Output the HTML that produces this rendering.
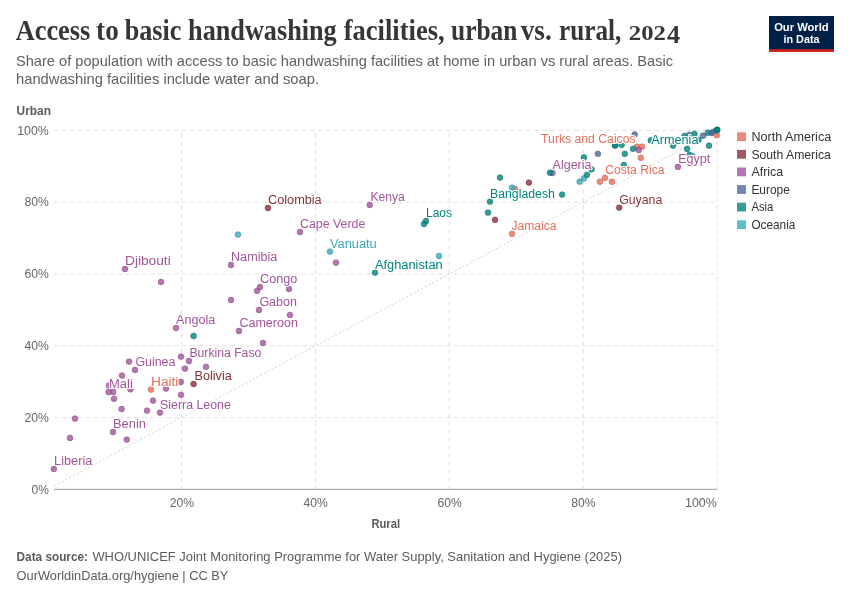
<!DOCTYPE html>
<html lang="en"><head><meta charset="utf-8">
<title>Access to basic handwashing facilities, urban vs. rural, 2024</title>
<style>
html,body{margin:0;padding:0;background:#fff;}
body{width:850px;height:600px;overflow:hidden;}
svg{display:block;font-family:"Liberation Sans",Arial,sans-serif;}
.title{font-family:"Liberation Serif","DejaVu Serif",serif;font-weight:700;fill:#363636;}
.sub{fill:#606060;}
.tick{fill:#666;font-size:13px;}
.axl{fill:#5b5b5b;font-weight:700;font-size:12.8px;}
.lab{font-size:12px;paint-order:stroke;stroke:#fff;stroke-width:2.2px;stroke-linejoin:round;}
.leg{fill:#333;font-size:12.4px;}
.foot{fill:#5b5b5b;font-size:13px;}
.grid{stroke:#e0e0e0;stroke-width:1;stroke-dasharray:4.6 3.4;fill:none;}
.logo{fill:#fff;font-weight:700;font-size:11.6px;}
</style></head><body>
<svg width="850" height="600" viewBox="0 0 850 600">
<rect x="0" y="0" width="850" height="600" fill="#fff"/>
<text class="title" x="16" y="40.2" font-size="28.4"><tspan x="15.7" textLength="74.6" lengthAdjust="spacingAndGlyphs">Access</tspan> <tspan x="96.1" textLength="22.6" lengthAdjust="spacingAndGlyphs">to</tspan> <tspan x="124.7" textLength="56.6" lengthAdjust="spacingAndGlyphs">basic</tspan> <tspan x="188.1" textLength="148.6" lengthAdjust="spacingAndGlyphs">handwashing</tspan> <tspan x="343.7" textLength="101.0" lengthAdjust="spacingAndGlyphs">facilities,</tspan> <tspan x="451.1" textLength="66.2" lengthAdjust="spacingAndGlyphs">urban</tspan> <tspan x="520.7" textLength="31.0" lengthAdjust="spacingAndGlyphs">vs.</tspan> <tspan x="559.1" textLength="62.2" lengthAdjust="spacingAndGlyphs">rural,</tspan><tspan x="628.8" font-size="20" textLength="37.1" lengthAdjust="spacingAndGlyphs">202</tspan><tspan x="667.1" y="43.3" font-size="24.7" textLength="13.1" lengthAdjust="spacingAndGlyphs">4</tspan></text>
<text x="16" y="65.6" class="sub" textLength="657" lengthAdjust="spacingAndGlyphs" font-size="15">Share of population with access to basic handwashing facilities at home in urban vs rural areas. Basic</text>
<text x="16" y="84.0" class="sub" textLength="303" lengthAdjust="spacingAndGlyphs" font-size="15">handwashing facilities include water and soap.</text>
<rect x="769" y="16" width="65" height="36" fill="#002147"/>
<rect x="769" y="49.2" width="65" height="2.8" fill="#ce261e"/>
<text x="801.4" y="30.6" class="logo" textLength="54.5" lengthAdjust="spacingAndGlyphs" text-anchor="middle">Our World</text>
<text x="801.5" y="42.6" class="logo" textLength="36" lengthAdjust="spacingAndGlyphs" text-anchor="middle">in Data</text>
<text x="16.6" y="114.5" class="axl" textLength="34.4" lengthAdjust="spacingAndGlyphs">Urban</text>
<text x="371.4" y="528.2" class="axl" textLength="28.6" lengthAdjust="spacingAndGlyphs">Rural</text>
<line class="grid" x1="54.2" y1="417.62" x2="717.1" y2="417.62"/>
<line class="grid" x1="54.2" y1="345.79" x2="717.1" y2="345.79"/>
<line class="grid" x1="54.2" y1="273.96" x2="717.1" y2="273.96"/>
<line class="grid" x1="54.2" y1="202.13" x2="717.1" y2="202.13"/>
<line class="grid" x1="54.2" y1="130.3" x2="717.1" y2="130.3"/>
<line class="grid" x1="181.58" y1="489.45" x2="181.58" y2="130.3"/>
<line class="grid" x1="315.46" y1="489.45" x2="315.46" y2="130.3"/>
<line class="grid" x1="449.34" y1="489.45" x2="449.34" y2="130.3"/>
<line class="grid" x1="583.22" y1="489.45" x2="583.22" y2="130.3"/>
<line class="grid" x1="717.1" y1="489.45" x2="717.1" y2="130.3"/>
<line x1="54.2" y1="489.3" x2="717.1" y2="489.3" stroke="#999" stroke-width="1"/>
<line x1="54.2" y1="485.96" x2="717.1" y2="130.3" stroke="#d4d4d4" stroke-width="1" stroke-dasharray="2.1 2.15"/>
<text x="31.5" y="493.65" class="tick" textLength="17.3" lengthAdjust="spacingAndGlyphs">0%</text>
<text x="24.5" y="421.82" class="tick" textLength="24.3" lengthAdjust="spacingAndGlyphs">20%</text>
<text x="24.5" y="349.99" class="tick" textLength="24.3" lengthAdjust="spacingAndGlyphs">40%</text>
<text x="24.5" y="278.16" class="tick" textLength="24.3" lengthAdjust="spacingAndGlyphs">60%</text>
<text x="24.5" y="206.33" class="tick" textLength="24.3" lengthAdjust="spacingAndGlyphs">80%</text>
<text x="17.2" y="134.5" class="tick" textLength="31.6" lengthAdjust="spacingAndGlyphs">100%</text>
<text x="169.68" y="507.2" class="tick" textLength="24.3" lengthAdjust="spacingAndGlyphs">20%</text>
<text x="303.56" y="507.2" class="tick" textLength="24.3" lengthAdjust="spacingAndGlyphs">40%</text>
<text x="437.44" y="507.2" class="tick" textLength="24.3" lengthAdjust="spacingAndGlyphs">60%</text>
<text x="571.32" y="507.2" class="tick" textLength="24.3" lengthAdjust="spacingAndGlyphs">80%</text>
<text x="685" y="507.2" class="tick" textLength="31.8" lengthAdjust="spacingAndGlyphs">100%</text>
<circle cx="53.9" cy="469.0" r="2.9" fill="#a2559c" fill-opacity="0.8" stroke="#82447d" stroke-opacity="0.8" stroke-width="0.6"/>
<circle cx="70" cy="438" r="2.9" fill="#a2559c" fill-opacity="0.8" stroke="#82447d" stroke-opacity="0.8" stroke-width="0.6"/>
<circle cx="75" cy="418.6" r="2.9" fill="#a2559c" fill-opacity="0.8" stroke="#82447d" stroke-opacity="0.8" stroke-width="0.6"/>
<circle cx="113" cy="432" r="2.9" fill="#a2559c" fill-opacity="0.8" stroke="#82447d" stroke-opacity="0.8" stroke-width="0.6"/>
<circle cx="126.8" cy="439.6" r="2.9" fill="#a2559c" fill-opacity="0.8" stroke="#82447d" stroke-opacity="0.8" stroke-width="0.6"/>
<circle cx="121.6" cy="409" r="2.9" fill="#a2559c" fill-opacity="0.8" stroke="#82447d" stroke-opacity="0.8" stroke-width="0.6"/>
<circle cx="114" cy="398.8" r="2.9" fill="#a2559c" fill-opacity="0.8" stroke="#82447d" stroke-opacity="0.8" stroke-width="0.6"/>
<circle cx="108.6" cy="392" r="2.9" fill="#a2559c" fill-opacity="0.8" stroke="#82447d" stroke-opacity="0.8" stroke-width="0.6"/>
<circle cx="113.2" cy="392" r="2.9" fill="#a2559c" fill-opacity="0.8" stroke="#82447d" stroke-opacity="0.8" stroke-width="0.6"/>
<circle cx="109" cy="385.5" r="2.9" fill="#a2559c" fill-opacity="0.8" stroke="#82447d" stroke-opacity="0.8" stroke-width="0.6"/>
<circle cx="130.4" cy="389.3" r="2.9" fill="#a2559c" fill-opacity="0.8" stroke="#82447d" stroke-opacity="0.8" stroke-width="0.6"/>
<circle cx="147" cy="410.6" r="2.9" fill="#a2559c" fill-opacity="0.8" stroke="#82447d" stroke-opacity="0.8" stroke-width="0.6"/>
<circle cx="160" cy="412.6" r="2.9" fill="#a2559c" fill-opacity="0.8" stroke="#82447d" stroke-opacity="0.8" stroke-width="0.6"/>
<circle cx="153" cy="400.6" r="2.9" fill="#a2559c" fill-opacity="0.8" stroke="#82447d" stroke-opacity="0.8" stroke-width="0.6"/>
<circle cx="151" cy="389.6" r="2.9" fill="#e56e5a" fill-opacity="0.8" stroke="#b75848" stroke-opacity="0.8" stroke-width="0.6"/>
<circle cx="166" cy="388.5" r="2.9" fill="#a2559c" fill-opacity="0.8" stroke="#82447d" stroke-opacity="0.8" stroke-width="0.6"/>
<circle cx="181" cy="394.8" r="2.9" fill="#a2559c" fill-opacity="0.8" stroke="#82447d" stroke-opacity="0.8" stroke-width="0.6"/>
<circle cx="180.8" cy="382" r="2.9" fill="#a2559c" fill-opacity="0.8" stroke="#82447d" stroke-opacity="0.8" stroke-width="0.6"/>
<circle cx="193.6" cy="384" r="2.9" fill="#883039" fill-opacity="0.8" stroke="#6d262e" stroke-opacity="0.8" stroke-width="0.6"/>
<circle cx="161" cy="282" r="2.9" fill="#a2559c" fill-opacity="0.8" stroke="#82447d" stroke-opacity="0.8" stroke-width="0.6"/>
<circle cx="176" cy="328" r="2.9" fill="#a2559c" fill-opacity="0.8" stroke="#82447d" stroke-opacity="0.8" stroke-width="0.6"/>
<circle cx="193.6" cy="336" r="2.9" fill="#00847e" fill-opacity="0.8" stroke="#006a65" stroke-opacity="0.8" stroke-width="0.6"/>
<circle cx="181" cy="356.6" r="2.9" fill="#a2559c" fill-opacity="0.8" stroke="#82447d" stroke-opacity="0.8" stroke-width="0.6"/>
<circle cx="189" cy="361" r="2.9" fill="#a2559c" fill-opacity="0.8" stroke="#82447d" stroke-opacity="0.8" stroke-width="0.6"/>
<circle cx="185" cy="368.6" r="2.9" fill="#a2559c" fill-opacity="0.8" stroke="#82447d" stroke-opacity="0.8" stroke-width="0.6"/>
<circle cx="206" cy="366.8" r="2.9" fill="#a2559c" fill-opacity="0.8" stroke="#82447d" stroke-opacity="0.8" stroke-width="0.6"/>
<circle cx="129" cy="361.6" r="2.9" fill="#a2559c" fill-opacity="0.8" stroke="#82447d" stroke-opacity="0.8" stroke-width="0.6"/>
<circle cx="135" cy="370" r="2.9" fill="#a2559c" fill-opacity="0.8" stroke="#82447d" stroke-opacity="0.8" stroke-width="0.6"/>
<circle cx="122" cy="375.6" r="2.9" fill="#a2559c" fill-opacity="0.8" stroke="#82447d" stroke-opacity="0.8" stroke-width="0.6"/>
<circle cx="260" cy="287" r="2.9" fill="#a2559c" fill-opacity="0.8" stroke="#82447d" stroke-opacity="0.8" stroke-width="0.6"/>
<circle cx="257" cy="290.8" r="2.9" fill="#a2559c" fill-opacity="0.8" stroke="#82447d" stroke-opacity="0.8" stroke-width="0.6"/>
<circle cx="289" cy="289" r="2.9" fill="#a2559c" fill-opacity="0.8" stroke="#82447d" stroke-opacity="0.8" stroke-width="0.6"/>
<circle cx="231" cy="300" r="2.9" fill="#a2559c" fill-opacity="0.8" stroke="#82447d" stroke-opacity="0.8" stroke-width="0.6"/>
<circle cx="259" cy="310" r="2.9" fill="#a2559c" fill-opacity="0.8" stroke="#82447d" stroke-opacity="0.8" stroke-width="0.6"/>
<circle cx="290" cy="315" r="2.9" fill="#a2559c" fill-opacity="0.8" stroke="#82447d" stroke-opacity="0.8" stroke-width="0.6"/>
<circle cx="239" cy="331" r="2.9" fill="#a2559c" fill-opacity="0.8" stroke="#82447d" stroke-opacity="0.8" stroke-width="0.6"/>
<circle cx="263" cy="343" r="2.9" fill="#a2559c" fill-opacity="0.8" stroke="#82447d" stroke-opacity="0.8" stroke-width="0.6"/>
<circle cx="268" cy="208" r="2.9" fill="#883039" fill-opacity="0.8" stroke="#6d262e" stroke-opacity="0.8" stroke-width="0.6"/>
<circle cx="238" cy="234.6" r="2.9" fill="#38aaba" fill-opacity="0.8" stroke="#2d8895" stroke-opacity="0.8" stroke-width="0.6"/>
<circle cx="300" cy="232" r="2.9" fill="#a2559c" fill-opacity="0.8" stroke="#82447d" stroke-opacity="0.8" stroke-width="0.6"/>
<circle cx="330" cy="251.6" r="2.9" fill="#38aaba" fill-opacity="0.8" stroke="#2d8895" stroke-opacity="0.8" stroke-width="0.6"/>
<circle cx="336" cy="262.6" r="2.9" fill="#a2559c" fill-opacity="0.8" stroke="#82447d" stroke-opacity="0.8" stroke-width="0.6"/>
<circle cx="231" cy="265" r="2.9" fill="#a2559c" fill-opacity="0.8" stroke="#82447d" stroke-opacity="0.8" stroke-width="0.6"/>
<circle cx="369.8" cy="205" r="2.9" fill="#a2559c" fill-opacity="0.8" stroke="#82447d" stroke-opacity="0.8" stroke-width="0.6"/>
<circle cx="125" cy="269" r="2.9" fill="#a2559c" fill-opacity="0.8" stroke="#82447d" stroke-opacity="0.8" stroke-width="0.6"/>
<circle cx="426" cy="221" r="2.9" fill="#00847e" fill-opacity="0.8" stroke="#006a65" stroke-opacity="0.8" stroke-width="0.6"/>
<circle cx="424" cy="224" r="2.9" fill="#00847e" fill-opacity="0.8" stroke="#006a65" stroke-opacity="0.8" stroke-width="0.6"/>
<circle cx="375" cy="272.6" r="2.9" fill="#00847e" fill-opacity="0.8" stroke="#006a65" stroke-opacity="0.8" stroke-width="0.6"/>
<circle cx="439" cy="256" r="2.9" fill="#38aaba" fill-opacity="0.8" stroke="#2d8895" stroke-opacity="0.8" stroke-width="0.6"/>
<circle cx="490" cy="201.6" r="2.9" fill="#00847e" fill-opacity="0.8" stroke="#006a65" stroke-opacity="0.8" stroke-width="0.6"/>
<circle cx="488" cy="212.6" r="2.9" fill="#00847e" fill-opacity="0.8" stroke="#006a65" stroke-opacity="0.8" stroke-width="0.6"/>
<circle cx="495" cy="219.8" r="2.9" fill="#883039" fill-opacity="0.8" stroke="#6d262e" stroke-opacity="0.8" stroke-width="0.6"/>
<circle cx="512" cy="233.8" r="2.9" fill="#e56e5a" fill-opacity="0.8" stroke="#b75848" stroke-opacity="0.8" stroke-width="0.6"/>
<circle cx="515" cy="188.8" r="2.9" fill="#e56e5a" fill-opacity="0.8" stroke="#b75848" stroke-opacity="0.8" stroke-width="0.6"/>
<circle cx="512" cy="187.6" r="2.9" fill="#38aaba" fill-opacity="0.8" stroke="#2d8895" stroke-opacity="0.8" stroke-width="0.6"/>
<circle cx="528.9" cy="182.6" r="2.9" fill="#883039" fill-opacity="0.8" stroke="#6d262e" stroke-opacity="0.8" stroke-width="0.6"/>
<circle cx="500" cy="177.6" r="2.9" fill="#00847e" fill-opacity="0.8" stroke="#006a65" stroke-opacity="0.8" stroke-width="0.6"/>
<circle cx="552.5" cy="173" r="2.9" fill="#a2559c" fill-opacity="0.8" stroke="#82447d" stroke-opacity="0.8" stroke-width="0.6"/>
<circle cx="550" cy="172.7" r="2.9" fill="#00847e" fill-opacity="0.8" stroke="#006a65" stroke-opacity="0.8" stroke-width="0.6"/>
<circle cx="562.1" cy="194.6" r="2.9" fill="#00847e" fill-opacity="0.8" stroke="#006a65" stroke-opacity="0.8" stroke-width="0.6"/>
<circle cx="579.6" cy="181.7" r="2.9" fill="#38aaba" fill-opacity="0.8" stroke="#2d8895" stroke-opacity="0.8" stroke-width="0.6"/>
<circle cx="583.9" cy="178.4" r="2.9" fill="#38aaba" fill-opacity="0.8" stroke="#2d8895" stroke-opacity="0.8" stroke-width="0.6"/>
<circle cx="587" cy="174.8" r="2.9" fill="#00847e" fill-opacity="0.8" stroke="#006a65" stroke-opacity="0.8" stroke-width="0.6"/>
<circle cx="591.6" cy="169.3" r="2.9" fill="#00847e" fill-opacity="0.8" stroke="#006a65" stroke-opacity="0.8" stroke-width="0.6"/>
<circle cx="583.9" cy="157.5" r="2.9" fill="#00847e" fill-opacity="0.8" stroke="#006a65" stroke-opacity="0.8" stroke-width="0.6"/>
<circle cx="597.9" cy="153.8" r="2.9" fill="#4c6a9c" fill-opacity="0.8" stroke="#3d557d" stroke-opacity="0.8" stroke-width="0.6"/>
<circle cx="600" cy="181.7" r="2.9" fill="#e56e5a" fill-opacity="0.8" stroke="#b75848" stroke-opacity="0.8" stroke-width="0.6"/>
<circle cx="605" cy="177.8" r="2.9" fill="#e56e5a" fill-opacity="0.8" stroke="#b75848" stroke-opacity="0.8" stroke-width="0.6"/>
<circle cx="612" cy="181.7" r="2.9" fill="#e56e5a" fill-opacity="0.8" stroke="#b75848" stroke-opacity="0.8" stroke-width="0.6"/>
<circle cx="619.2" cy="207.6" r="2.9" fill="#883039" fill-opacity="0.8" stroke="#6d262e" stroke-opacity="0.8" stroke-width="0.6"/>
<circle cx="624.8" cy="153.8" r="2.9" fill="#00847e" fill-opacity="0.8" stroke="#006a65" stroke-opacity="0.8" stroke-width="0.6"/>
<circle cx="623.9" cy="165" r="2.9" fill="#00847e" fill-opacity="0.8" stroke="#006a65" stroke-opacity="0.8" stroke-width="0.6"/>
<circle cx="615" cy="145.5" r="2.9" fill="#00847e" fill-opacity="0.8" stroke="#006a65" stroke-opacity="0.8" stroke-width="0.6"/>
<circle cx="615.3" cy="145.3" r="2.9" fill="#00847e" fill-opacity="0.8" stroke="#006a65" stroke-opacity="0.8" stroke-width="0.6"/>
<circle cx="621.7" cy="144.8" r="2.9" fill="#00847e" fill-opacity="0.8" stroke="#006a65" stroke-opacity="0.8" stroke-width="0.6"/>
<circle cx="634.7" cy="134.5" r="2.9" fill="#4c6a9c" fill-opacity="0.8" stroke="#3d557d" stroke-opacity="0.8" stroke-width="0.6"/>
<circle cx="637" cy="146.7" r="2.9" fill="#e56e5a" fill-opacity="0.8" stroke="#b75848" stroke-opacity="0.8" stroke-width="0.6"/>
<circle cx="633" cy="148.8" r="2.9" fill="#00847e" fill-opacity="0.8" stroke="#006a65" stroke-opacity="0.8" stroke-width="0.6"/>
<circle cx="642" cy="146.7" r="2.9" fill="#e56e5a" fill-opacity="0.8" stroke="#b75848" stroke-opacity="0.8" stroke-width="0.6"/>
<circle cx="638.8" cy="150" r="2.9" fill="#a2559c" fill-opacity="0.8" stroke="#82447d" stroke-opacity="0.8" stroke-width="0.6"/>
<circle cx="640.8" cy="157.8" r="2.9" fill="#e56e5a" fill-opacity="0.8" stroke="#b75848" stroke-opacity="0.8" stroke-width="0.6"/>
<circle cx="650.8" cy="140.4" r="2.9" fill="#00847e" fill-opacity="0.8" stroke="#006a65" stroke-opacity="0.8" stroke-width="0.6"/>
<circle cx="673" cy="145.6" r="2.9" fill="#00847e" fill-opacity="0.8" stroke="#006a65" stroke-opacity="0.8" stroke-width="0.6"/>
<circle cx="687.1" cy="149" r="2.9" fill="#00847e" fill-opacity="0.8" stroke="#006a65" stroke-opacity="0.8" stroke-width="0.6"/>
<circle cx="689.5" cy="155.0" r="2.9" fill="#00847e" fill-opacity="0.8" stroke="#006a65" stroke-opacity="0.8" stroke-width="0.6"/>
<circle cx="692.6" cy="155.8" r="2.9" fill="#38aaba" fill-opacity="0.8" stroke="#2d8895" stroke-opacity="0.8" stroke-width="0.6"/>
<circle cx="677.9" cy="166.9" r="2.9" fill="#a2559c" fill-opacity="0.8" stroke="#82447d" stroke-opacity="0.8" stroke-width="0.6"/>
<circle cx="684.6" cy="136" r="2.9" fill="#00847e" fill-opacity="0.8" stroke="#006a65" stroke-opacity="0.8" stroke-width="0.6"/>
<circle cx="689.2" cy="134.8" r="2.9" fill="#4c6a9c" fill-opacity="0.8" stroke="#3d557d" stroke-opacity="0.8" stroke-width="0.6"/>
<circle cx="694.4" cy="133.8" r="2.9" fill="#00847e" fill-opacity="0.8" stroke="#006a65" stroke-opacity="0.8" stroke-width="0.6"/>
<circle cx="698.5" cy="140.0" r="2.9" fill="#00847e" fill-opacity="0.8" stroke="#006a65" stroke-opacity="0.8" stroke-width="0.6"/>
<circle cx="703" cy="135.7" r="2.9" fill="#4c6a9c" fill-opacity="0.8" stroke="#3d557d" stroke-opacity="0.8" stroke-width="0.6"/>
<circle cx="707.8" cy="132.7" r="2.9" fill="#00847e" fill-opacity="0.8" stroke="#006a65" stroke-opacity="0.8" stroke-width="0.6"/>
<circle cx="711.6" cy="133" r="2.9" fill="#4c6a9c" fill-opacity="0.8" stroke="#3d557d" stroke-opacity="0.8" stroke-width="0.6"/>
<circle cx="713.2" cy="131.8" r="2.9" fill="#4c6a9c" fill-opacity="0.8" stroke="#3d557d" stroke-opacity="0.8" stroke-width="0.6"/>
<circle cx="716.9" cy="135.2" r="2.9" fill="#e56e5a" fill-opacity="0.8" stroke="#b75848" stroke-opacity="0.8" stroke-width="0.6"/>
<circle cx="716.6" cy="130.3" r="2.9" fill="#00847e" fill-opacity="0.8" stroke="#006a65" stroke-opacity="0.8" stroke-width="0.6"/>
<circle cx="717.1" cy="129.9" r="2.9" fill="#00847e" fill-opacity="0.8" stroke="#006a65" stroke-opacity="0.8" stroke-width="0.6"/>
<circle cx="717.3" cy="129.7" r="2.9" fill="#00847e" fill-opacity="0.8" stroke="#006a65" stroke-opacity="0.8" stroke-width="0.6"/>
<circle cx="709" cy="145.7" r="2.9" fill="#00847e" fill-opacity="0.8" stroke="#006a65" stroke-opacity="0.8" stroke-width="0.6"/>
<text x="54.1" y="465.4" class="lab" textLength="38.3" lengthAdjust="spacingAndGlyphs" fill="#a2559c">Liberia</text>
<text x="113.0" y="428.2" class="lab" textLength="32.9" lengthAdjust="spacingAndGlyphs" fill="#a2559c">Benin</text>
<text x="160.0" y="409.2" class="lab" textLength="70.9" lengthAdjust="spacingAndGlyphs" fill="#a2559c">Sierra Leone</text>
<text x="109.0" y="388.0" class="lab" textLength="23.9" lengthAdjust="spacingAndGlyphs" fill="#a2559c">Mali</text>
<text x="151.0" y="386.0" class="lab" textLength="27.4" lengthAdjust="spacingAndGlyphs" fill="#e56e5a">Haiti</text>
<text x="194.4" y="380.0" class="lab" textLength="37.5" lengthAdjust="spacingAndGlyphs" fill="#883039">Bolivia</text>
<text x="135.4" y="365.6" class="lab" textLength="39.9" lengthAdjust="spacingAndGlyphs" fill="#a2559c">Guinea</text>
<text x="189.4" y="356.6" class="lab" textLength="71.9" lengthAdjust="spacingAndGlyphs" fill="#a2559c">Burkina Faso</text>
<text x="176.0" y="323.6" class="lab" textLength="39.3" lengthAdjust="spacingAndGlyphs" fill="#a2559c">Angola</text>
<text x="239.4" y="327.2" class="lab" textLength="58.5" lengthAdjust="spacingAndGlyphs" fill="#a2559c">Cameroon</text>
<text x="259.4" y="306.2" class="lab" textLength="37.5" lengthAdjust="spacingAndGlyphs" fill="#a2559c">Gabon</text>
<text x="260.0" y="283.0" class="lab" textLength="37.3" lengthAdjust="spacingAndGlyphs" fill="#a2559c">Congo</text>
<text x="231.0" y="261.0" class="lab" textLength="46.3" lengthAdjust="spacingAndGlyphs" fill="#a2559c">Namibia</text>
<text x="125.0" y="265.0" class="lab" textLength="45.7" lengthAdjust="spacingAndGlyphs" fill="#a2559c">Djibouti</text>
<text x="268.0" y="204.2" class="lab" textLength="53.7" lengthAdjust="spacingAndGlyphs" fill="#883039">Colombia</text>
<text x="300.0" y="228.0" class="lab" textLength="65.3" lengthAdjust="spacingAndGlyphs" fill="#a2559c">Cape Verde</text>
<text x="330.0" y="247.6" class="lab" textLength="46.7" lengthAdjust="spacingAndGlyphs" fill="#38aaba">Vanuatu</text>
<text x="370.4" y="201.0" class="lab" textLength="34.3" lengthAdjust="spacingAndGlyphs" fill="#a2559c">Kenya</text>
<text x="426.0" y="217.2" class="lab" textLength="25.9" lengthAdjust="spacingAndGlyphs" fill="#00847e">Laos</text>
<text x="375.0" y="268.6" class="lab" textLength="67.7" lengthAdjust="spacingAndGlyphs" fill="#00847e">Afghanistan</text>
<text x="490.0" y="198.0" class="lab" textLength="64.9" lengthAdjust="spacingAndGlyphs" fill="#00847e">Bangladesh</text>
<text x="511.6" y="230.0" class="lab" textLength="44.9" lengthAdjust="spacingAndGlyphs" fill="#e56e5a">Jamaica</text>
<text x="552.6" y="169.1" class="lab" textLength="38.9" lengthAdjust="spacingAndGlyphs" fill="#a2559c">Algeria</text>
<text x="541.1" y="142.6" class="lab" textLength="94.5" lengthAdjust="spacingAndGlyphs" fill="#e56e5a">Turks and Caicos</text>
<text x="605.2" y="174.0" class="lab" textLength="59.3" lengthAdjust="spacingAndGlyphs" fill="#e56e5a">Costa Rica</text>
<text x="619.2" y="203.9" class="lab" textLength="43.1" lengthAdjust="spacingAndGlyphs" fill="#883039">Guyana</text>
<text x="651.2" y="143.5" class="lab" textLength="47.3" lengthAdjust="spacingAndGlyphs" fill="#00847e">Armenia</text>
<text x="678.2" y="162.8" class="lab" textLength="32.1" lengthAdjust="spacingAndGlyphs" fill="#a2559c">Egypt</text>
<rect x="737" y="132.3" width="9" height="8.8" fill="#e56e5a" fill-opacity="0.8"/>
<text x="751.4" y="141.0" class="leg" textLength="79.8" lengthAdjust="spacingAndGlyphs">North America</text>
<rect x="737" y="149.9" width="9" height="8.8" fill="#883039" fill-opacity="0.8"/>
<text x="751.4" y="158.6" class="leg" textLength="79.4" lengthAdjust="spacingAndGlyphs">South America</text>
<rect x="737" y="167.5" width="9" height="8.8" fill="#a2559c" fill-opacity="0.8"/>
<text x="751.4" y="176.2" class="leg" textLength="31.8" lengthAdjust="spacingAndGlyphs">Africa</text>
<rect x="737" y="185.1" width="9" height="8.8" fill="#4c6a9c" fill-opacity="0.8"/>
<text x="751.4" y="193.8" class="leg" textLength="38.4" lengthAdjust="spacingAndGlyphs">Europe</text>
<rect x="737" y="202.7" width="9" height="8.8" fill="#00847e" fill-opacity="0.8"/>
<text x="751.4" y="211.4" class="leg" textLength="22" lengthAdjust="spacingAndGlyphs">Asia</text>
<rect x="737" y="220.3" width="9" height="8.8" fill="#38aaba" fill-opacity="0.8"/>
<text x="751.4" y="229.0" class="leg" textLength="44" lengthAdjust="spacingAndGlyphs">Oceania</text>
<text x="16.6" y="560.7" class="foot" textLength="71.4" lengthAdjust="spacingAndGlyphs" font-weight="700">Data source:</text>
<text x="92.4" y="560.7" class="foot" textLength="529.6" lengthAdjust="spacingAndGlyphs">WHO/UNICEF Joint Monitoring Programme for Water Supply, Sanitation and Hygiene (2025)</text>
<text x="16.6" y="580.1" class="foot" textLength="211.8" lengthAdjust="spacingAndGlyphs">OurWorldinData.org/hygiene | CC BY</text>
</svg></body></html>
